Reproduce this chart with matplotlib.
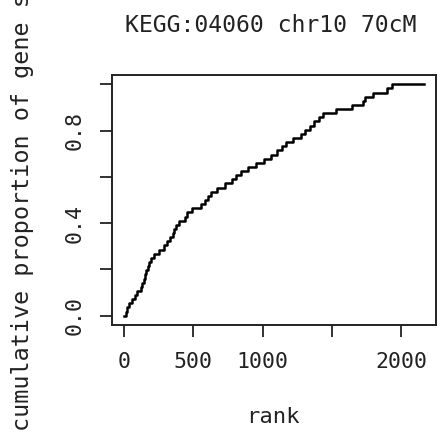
import numpy as np
import matplotlib
matplotlib.use("Agg")
import matplotlib.pyplot as plt

# ranks of the gene set members
ranks = [11, 22, 37, 56, 76, 97, 119, 133, 144, 153, 161, 170, 182, 195,
         214, 251, 285, 307, 330, 352, 363, 373, 400, 437, 457, 487, 553,
         585, 606, 628, 669, 731, 777, 807, 841, 892, 952, 1012, 1061, 1106,
         1136, 1166, 1219, 1273, 1308, 1340, 1373, 1404, 1434, 1527, 1641,
         1724, 1741, 1798, 1894, 1931]
n_total = 2163

title = "KEGG:04060 chr10 70cM"
xlab = "rank"
ylab = "cumulative proportion of gene set"
xticks = [0, 500, 1000, 1500, 2000]
xticklabels = ["0", "500", "1000", "", "2000"]
yticks = [0.0, 0.2, 0.4, 0.6, 0.8, 1.0]
yticklabels = ["0.0", "", "0.4", "", "0.8", ""]

plt.rcParams["font.family"] = "DejaVu Sans Mono"

n = len(ranks)
x = np.array([0] + ranks + [n_total])
y = np.concatenate([[0], np.arange(1, n + 1) / n, [1.0]])

fig = plt.figure(figsize=(4.4, 4.37), dpi=100)
ax = fig.add_axes([112 / 440, 1 - 325 / 437, 324 / 440, 250 / 437])
ax.plot(x, y, drawstyle="steps-post", color="black", lw=1.8)

pad = 0.04
ax.set_xlim(-pad * n_total, n_total * (1 + pad))
ax.set_ylim(-pad, 1 + pad)

ax.set_xticks(xticks)
ax.set_xticklabels(xticklabels, fontsize=15.5)
ax.set_yticks(yticks)
ax.set_yticklabels(yticklabels, fontsize=15.5, rotation=90, va="center")
ax.tick_params(direction="out", length=8.5, width=1.3, colors="#222222")
ax.tick_params(axis="x", pad=11)
ax.tick_params(axis="y", pad=11)
for s in ax.spines.values():
    s.set_linewidth(1.4)
    s.set_color("#222222")

fig.text(271 / 440, 1 - 25 / 437, title, ha="center", va="center",
         fontsize=16.7, color="#222222")
fig.text(273 / 440, 1 - 417 / 437, xlab, ha="center", va="center",
         fontsize=16, color="#222222")
fig.text(23 / 440, 1 - 198 / 437, ylab, ha="center", va="center",
         rotation=90, fontsize=16.8, color="#222222")

fig.savefig("out.png", dpi=100)
